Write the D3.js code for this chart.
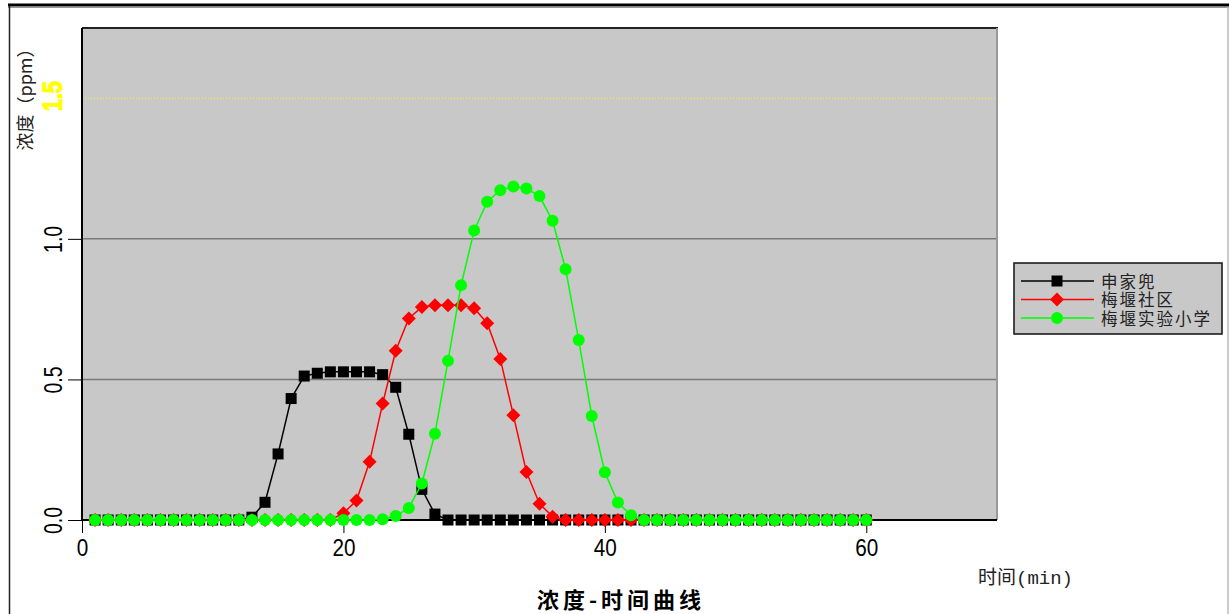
<!DOCTYPE html>
<html>
<head>
<meta charset="utf-8">
<script src="https://cdn.jsdelivr.net/npm/d3@7"></script>
<style>
  body { margin: 0; background: #fff; }
  svg { display: block; }
</style>
</head>
<body>
<svg id="chart" width="1229" height="614"></svg>
<script>
// minutes 1..60
const minutes = d3.range(1, 61);

// 申家兜
const shenjiadou = [
  0, 0, 0, 0, 0, 0, 0, 0, 0, 0, 0, 0, 0.01, 0.063, 0.235, 0.432, 0.512, 0.522, 0.527, 0.527,
  0.527, 0.527, 0.517, 0.472, 0.305, 0.109, 0.021, 0, 0, 0, 0, 0, 0, 0, 0, 0, 0, 0, 0, 0,
  0, 0, 0, 0, 0, 0, 0, 0, 0, 0, 0, 0, 0, 0, 0, 0, 0, 0, 0, 0
];
// 梅堰社区
const meiyanShequ = [
  0, 0, 0, 0, 0, 0, 0, 0, 0, 0, 0, 0, 0, 0, 0, 0, 0, 0, 0, 0.024,
  0.069, 0.207, 0.414, 0.602, 0.717, 0.758, 0.764, 0.764, 0.764, 0.753, 0.7, 0.573, 0.373, 0.171, 0.058, 0.012, 0, 0, 0, 0,
  0, 0, 0, 0, 0, 0, 0, 0, 0, 0, 0, 0, 0, 0, 0, 0, 0, 0, 0, 0
];
// 梅堰实验小学
const meiyanXiaoxue = [
  0, 0, 0, 0, 0, 0, 0, 0, 0, 0, 0, 0, 0, 0, 0, 0, 0, 0, 0, 0,
  0, 0, 0.003, 0.014, 0.043, 0.13, 0.307, 0.566, 0.835, 1.03, 1.132, 1.173, 1.186, 1.179, 1.152, 1.064, 0.892, 0.64, 0.37, 0.17,
  0.062, 0.017, 0, 0, 0, 0, 0, 0, 0, 0, 0, 0, 0, 0, 0, 0, 0, 0, 0, 0
];

const seriesNames = ["申家兜", "梅堰社区", "梅堰实验小学"];
const seriesColors = ["#000000", "#ff0000", "#00ff00"];
const seriesShapes = ["square", "diamond", "circle"];
const seriesValues = [shenjiadou, meiyanShequ, meiyanXiaoxue];

const xTicks = [0, 20, 40, 60];
const yTicks = [0, 0.5, 1.0];
const yTickLabels = ["0.0", "0.5", "1.0"];
const yLimitLine = 1.5;

const svg = d3.select("#chart");
const plot = { left: 82, right: 997, top: 28, bottom: 520 };

const x = d3.scaleLinear().domain([0, 70]).range([plot.left, plot.right]);
const y = d3.scaleLinear().domain([0, 1.75]).range([plot.bottom, plot.top]);

// outer frame
svg.append("line").attr("x1", 8).attr("x2", 1229).attr("y1", 5).attr("y2", 5)
  .attr("stroke", "#000").attr("stroke-width", 3);
svg.append("line").attr("x1", 8).attr("x2", 1229).attr("y1", 7.5).attr("y2", 7.5)
  .attr("stroke", "#999").attr("stroke-width", 1);
svg.append("line").attr("x1", 9.5).attr("x2", 9.5).attr("y1", 6).attr("y2", 614)
  .attr("stroke", "#222").attr("stroke-width", 1.5);
svg.append("line").attr("x1", 1228).attr("x2", 1228).attr("y1", 7).attr("y2", 614)
  .attr("stroke", "#bbb").attr("stroke-width", 1.5);

// plot background
svg.append("rect")
  .attr("x", plot.left).attr("y", plot.top)
  .attr("width", plot.right - plot.left).attr("height", plot.bottom - plot.top)
  .attr("fill", "#c8c8c8");

// gridlines
svg.selectAll("line.grid")
  .data(yTicks.filter(d => d > 0))
  .join("line")
  .attr("class", "grid")
  .attr("x1", plot.left).attr("x2", plot.right)
  .attr("y1", d => y(d)).attr("y2", d => y(d))
  .attr("stroke", "#7a7a7a").attr("stroke-width", 1.5);

// yellow dotted limit line
svg.append("line")
  .attr("x1", plot.left).attr("x2", plot.right)
  .attr("y1", y(yLimitLine)).attr("y2", y(yLimitLine))
  .attr("stroke", "#ffff00").attr("stroke-width", 1)
  .attr("stroke-dasharray", "1,2");

// plot borders
svg.append("line").attr("x1", plot.left).attr("x2", plot.right + 1)
  .attr("y1", plot.top).attr("y2", plot.top).attr("stroke", "#222").attr("stroke-width", 2);
svg.append("line").attr("x1", plot.right).attr("x2", plot.right)
  .attr("y1", plot.top).attr("y2", plot.bottom).attr("stroke", "#999").attr("stroke-width", 2);

// axes
const xAxis = svg.append("g")
  .attr("transform", `translate(0,${plot.bottom})`)
  .call(d3.axisBottom(x).tickValues(xTicks).tickSize(13).tickFormat(d3.format("d")));
xAxis.select(".domain").attr("stroke", "#000").attr("stroke-width", 2)
  .attr("d", `M${plot.left},0H${plot.right}`);
xAxis.selectAll(".tick line").attr("stroke", "#000").attr("stroke-width", 1);
xAxis.selectAll(".tick text")
  .attr("font-family", "Liberation Sans, Arial, sans-serif")
  .attr("font-size", 23).attr("fill", "#000")
  .attr("y", null).attr("dy", null)
  .attr("transform", "translate(0,36) scale(0.9,1)");

const yAxis = svg.append("g")
  .attr("transform", `translate(${plot.left},0)`)
  .call(d3.axisLeft(y).tickValues(yTicks).tickSize(14).tickFormat((d, i) => yTickLabels[i]));
yAxis.select(".domain").attr("stroke", "#000").attr("stroke-width", 2)
  .attr("d", `M0,${plot.top}V${plot.bottom}`);
yAxis.selectAll(".tick line").attr("stroke", "#000").attr("stroke-width", 1);
yAxis.selectAll(".tick text")
  .attr("font-family", "Liberation Sans, Arial, sans-serif")
  .attr("font-size", 26).attr("fill", "#000")
  .attr("x", null).attr("dy", null)
  .attr("text-anchor", "middle")
  .attr("transform", "translate(-20,0) rotate(-90) scale(0.75,1)");

// yellow 1.5 label
svg.append("text")
  .attr("transform", `translate(${plot.left - 20},${y(yLimitLine) - 2}) rotate(-90) scale(0.8,1)`)
  .attr("text-anchor", "middle")
  .attr("font-family", "Liberation Sans, Arial, sans-serif")
  .attr("font-size", 27).attr("font-weight", "bold")
  .attr("fill", "#ffff00")
  .attr("stroke", "#ffff00").attr("stroke-width", 1.2)
  .text("1.5");

// series
const line = d3.line().x((d, i) => x(minutes[i])).y(d => y(d));

function drawMarker(g, shape, color, cx, cy) {
  if (shape === "square") {
    g.append("rect").attr("x", cx - 5.5).attr("y", cy - 5.5)
      .attr("width", 11).attr("height", 11).attr("fill", color);
  } else if (shape === "diamond") {
    g.append("path")
      .attr("d", `M${cx},${cy - 7}L${cx + 7},${cy}L${cx},${cy + 7}L${cx - 7},${cy}Z`)
      .attr("fill", color);
  } else {
    g.append("circle").attr("cx", cx).attr("cy", cy).attr("r", 6).attr("fill", color);
  }
}

seriesValues.forEach((vals, s) => {
  const g = svg.append("g");
  g.append("path").datum(vals)
    .attr("d", line)
    .attr("fill", "none")
    .attr("stroke", seriesColors[s])
    .attr("stroke-width", 1.5);
  vals.forEach((v, i) => drawMarker(g, seriesShapes[s], seriesColors[s], x(minutes[i]), y(v)));
});

// axis titles
svg.append("text")
  .attr("transform", "translate(32,95) rotate(-90)")
  .attr("text-anchor", "middle")
  .attr("font-family", "Noto Sans CJK SC, sans-serif")
  .attr("font-size", 18).attr("fill", "#222")
  .text("浓度（ppm）");

svg.append("text")
  .attr("x", 978).attr("y", 584)
  .attr("font-family", "Liberation Mono, Noto Sans CJK SC, monospace")
  .attr("font-size", 19).attr("fill", "#222")
  .text("时间(min)");

svg.append("text")
  .attr("x", 621).attr("y", 608)
  .attr("text-anchor", "middle")
  .attr("font-family", "Noto Sans CJK SC, sans-serif")
  .attr("font-size", 22).attr("font-weight", "bold").attr("fill", "#000")
  .attr("letter-spacing", 4)
  .text("浓度-时间曲线");

// legend
const legend = svg.append("g");
legend.append("rect")
  .attr("x", 1014).attr("y", 263).attr("width", 208).attr("height", 71)
  .attr("fill", "#c8c8c8").attr("stroke", "#111").attr("stroke-width", 1.5);
seriesNames.forEach((name, i) => {
  const ly = 281 + i * 18.5;
  legend.append("line").attr("x1", 1021).attr("x2", 1094).attr("y1", ly).attr("y2", ly)
    .attr("stroke", seriesColors[i]).attr("stroke-width", 1.5);
  drawMarker(legend, seriesShapes[i], seriesColors[i], 1057, ly);
  legend.append("text")
    .attr("x", 1101).attr("y", ly + 6.5)
    .attr("font-family", "Liberation Sans, Noto Sans CJK SC, sans-serif")
    .attr("font-size", 16.5).attr("fill", "#222")
    .attr("letter-spacing", 2)
    .text(name);
});
</script>
</body>
</html>
